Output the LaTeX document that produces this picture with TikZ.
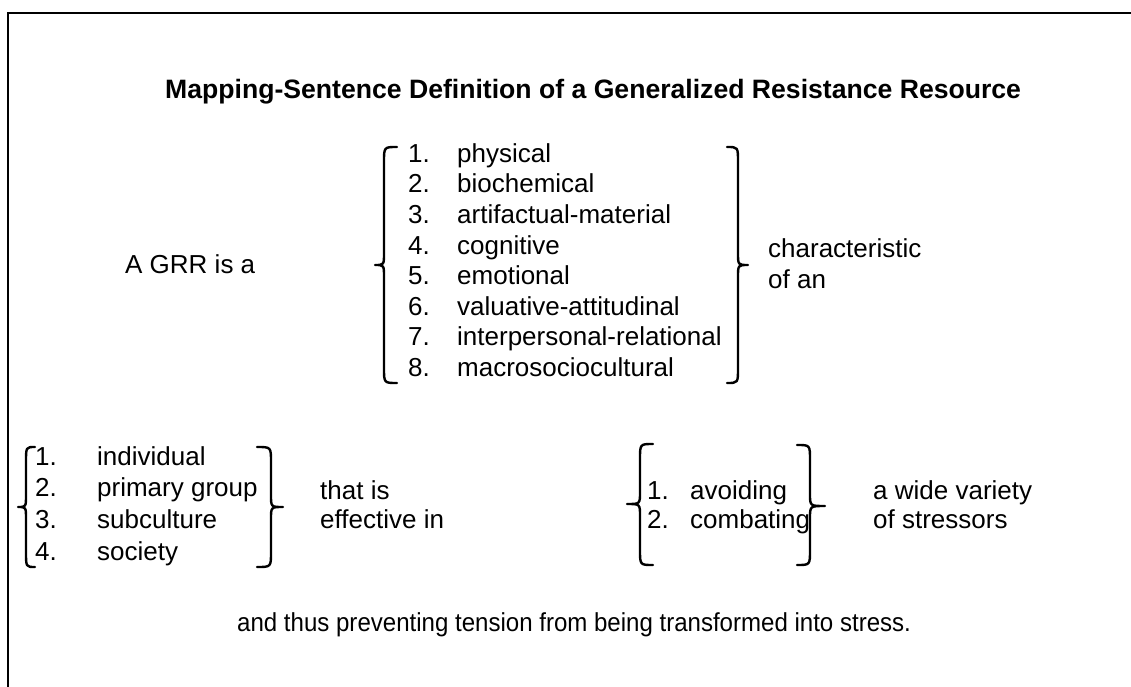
\documentclass[tikz,border=0pt]{standalone}
\usepackage{fontspec}
\setmainfont{Liberation Sans}
\newcommand{\mybrace}[6]{% xt xv xp yt ym yb
  \draw[brc] (#1,#4) .. controls (#2,#4) .. (#2,{#4+15}) -- (#2,{#5-12})
    .. controls (#2,#5) .. (#3,#5) .. controls (#2,#5) .. (#2,{#5+12})
    -- (#2,{#6-15}) .. controls (#2,#6) .. (#1,#6);}
\begin{document}
\begin{tikzpicture}[x=1pt,y=-1pt,
  txt/.style={anchor=base west, inner sep=0pt, font=\fontsize{26}{30}\selectfont},
  ttl/.style={anchor=base west, inner sep=0pt, font=\bfseries\fontsize{26.6}{30}\selectfont},
  brc/.style={line width=2.4pt, line cap=round, line join=round},
  frame/.style={line width=2.5pt}]
\useasboundingbox (0,0) rectangle (1131,687);
\draw[frame] (8,687) -- (8,13) -- (1131,13);
\node[ttl] (title) at (165,99) {Mapping-Sentence Definition of a Generalized Resistance Resource};
\node[txt] (grr) at (125,273) {A GRR is a};
% big list
\foreach \n/\t [count=\i from 0] in {1/physical,2/biochemical,3/artifactual-material,4/cognitive,5/emotional,6/valuative-attitudinal,7/interpersonal-relational,8/macrosociocultural}{
  \node[txt] (ln\n) at (408,{162.3+30.6*\i}) {\n.};
  \node[txt] (lt\n) at (457,{162.3+30.6*\i}) {\t};
}
\mybrace{397}{384}{375}{147}{265}{383}
\mybrace{727}{738}{748}{147}{265}{383}
\node[txt] (char1) at (768,257) {characteristic};
\node[txt] (char2) at (768,288) {of an};
% bottom-left list
\foreach \n/\t [count=\i from 0] in {1/individual,2/primary group,3/subculture,4/society}{
  \node[txt] (bn\n) at (35,{465+31.7*\i}) {\n.};
  \node[txt] (bt\n) at (97,{465+31.7*\i}) {\t};
}
\mybrace{35}{26}{18}{447}{507}{567}
\mybrace{257}{271}{283}{447}{507}{567}
\node[txt] (eff1) at (320,499) {that is};
\node[txt] (eff2) at (320,528) {effective in};
% bottom-right list
\node[txt] (cn1) at (647,499) {1.};
\node[txt] (ct1) at (690,499) {avoiding};
\node[txt] (cn2) at (647,528) {2.};
\node[txt] (ct2) at (690,528) {combating};
\mybrace{653}{640}{627}{444}{504}{565}
\mybrace{797}{810}{825}{445}{506}{565}
\node[txt] (str1) at (873,499) {a wide variety};
\node[txt] (str2) at (873,528) {of stressors};
\node[txt] (final) at (237,631) {\scalebox{0.925}[1]{and thus preventing tension from being transformed into stress.}};
\end{tikzpicture}
\end{document}
